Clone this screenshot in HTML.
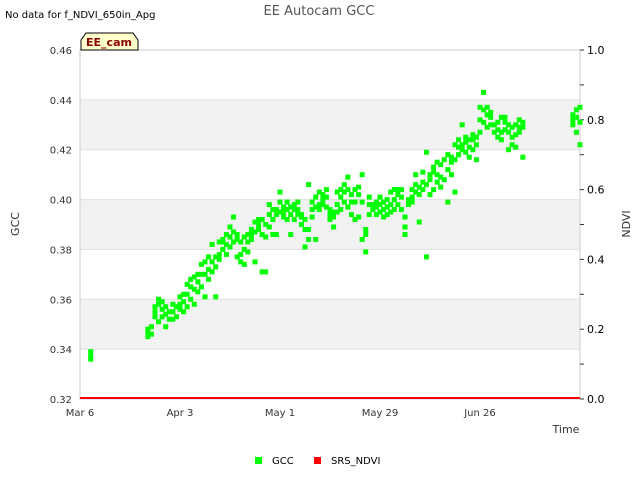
<!DOCTYPE html>
<html><head><meta charset="utf-8"><style>
body{margin:0;background:#fff;font-family:"Liberation Sans","DejaVu Sans",sans-serif;}
svg text{font-family:"DejaVu Sans","Liberation Sans",sans-serif;}
</style></head><body>
<svg id="chart" width="640" height="480" viewBox="0 0 640 480">
<text x="5" y="18" font-size="10" fill="#000">No data for f_NDVI_650in_Apg</text>
<text x="319" y="15" font-size="13" fill="#555" text-anchor="middle">EE Autocam GCC</text>
<g id="bands"></g>
<g id="grid"></g>
<rect x="80" y="50" width="500" height="349" fill="none" stroke="#ccc"/>
<g id="yticks"></g><g id="y2ticks"></g><g id="xticks"></g>
<g id="gccpts"></g><g id="ndvi"></g>
<path d="M81,50 L81,40 L86,33 L133,33 L138,40 L138,50 Z" fill="#ffffcc" stroke="#000" stroke-width="1"/>
<text x="109" y="46" font-size="11" font-weight="bold" fill="#8b0000" text-anchor="middle">EE_cam</text>
<text x="19" y="224" font-size="11" fill="#333" text-anchor="middle" transform="rotate(-90 19 224)">GCC</text>
<text x="630" y="224" font-size="11" fill="#333" text-anchor="middle" transform="rotate(-90 630 224)">NDVI</text>
<text x="566" y="433" font-size="11" fill="#333" text-anchor="middle">Time</text>
<g>
<rect x="255" y="457" width="7" height="7" fill="#00ff00"/>
<text x="272" y="464" font-size="10" fill="#000">GCC</text>
<rect x="314" y="457" width="7" height="7" fill="#ff0000"/>
<text x="331" y="464" font-size="10" fill="#000">SRS_NDVI</text>
</g>
</svg>
<script>
const yTicks=[0.32,0.34,0.36,0.38,0.40,0.42,0.44,0.46];
const y2Ticks=[0.0,0.2,0.4,0.6,0.8,1.0];
const xTickDays=[0,28,56,84,112];
const xTickLabels=["Mar 6","Apr 3","May 1","May 29","Jun 26"];
const gccDays=[3,3,3,19,19,19,20,20,21,21,21,22,22,22,23,23,23,24,24,24,25,25,26,26,26,27,27,28,28,28,29,29,29,30,30,30,31,31,31,32,32,32,33,33,33,34,34,34,35,35,35,36,36,36,37,37,37,38,38,38,39,39,39,40,40,40,41,41,41,42,42,42,43,43,43,44,44,44,45,45,45,46,46,46,47,47,47,48,48,48,49,49,49,50,50,50,51,51,51,52,52,52,53,53,53,54,54,54,55,55,55,56,56,56,57,57,57,58,58,58,59,59,59,60,60,60,61,61,61,62,62,62,63,63,63,64,64,64,65,65,65,66,66,66,67,67,67,68,68,68,69,69,69,70,70,70,71,71,71,72,72,72,73,73,73,74,74,74,75,75,75,76,76,76,77,77,77,78,78,78,79,79,79,80,80,80,81,81,81,82,82,83,83,83,84,84,84,85,85,85,86,86,86,87,87,87,88,88,88,89,89,89,90,90,90,91,91,91,92,92,93,93,93,94,94,94,95,95,95,96,96,96,97,97,97,98,98,98,99,99,99,100,100,100,101,101,101,102,102,103,103,103,104,104,104,105,105,105,106,106,106,107,107,107,108,108,108,109,109,109,110,110,110,111,111,111,112,112,112,113,113,113,114,114,114,115,115,115,116,116,117,117,117,118,118,118,119,119,119,120,120,120,121,121,121,122,122,122,123,123,123,124,124,124,138,138,138,139,139,139,140,140,140];
const gccValues=[.336,.337,.339,.345,.347,.348,.346,.349,.353,.355,.357,.351,.358,.360,.353,.356,.359,.349,.354,.357,.352,.355,.352,.355,.358,.353,.357,.356,.358,.361,.355,.359,.362,.357,.362,.366,.360,.365,.368,.358,.364,.369,.363,.367,.370,.365,.370,.374,.361,.370,.375,.368,.372,.377,.371,.375,.382,.361,.373,.377,.376,.378,.383,.380,.383,.384,.378,.382,.386,.381,.385,.389,.383,.387,.393,.377,.384,.386,.375,.378,.383,.374,.380,.385,.379,.383,.386,.384,.386,.388,.375,.387,.391,.388,.390,.392,.371,.386,.392,.371,.385,.390,.389,.394,.398,.386,.392,.396,.386,.394,.396,.395,.399,.403,.393,.395,.397,.392,.396,.399,.386,.394,.397,.392,.396,.398,.394,.396,.399,.390,.393,.394,.381,.388,.392,.384,.388,.406,.393,.396,.399,.384,.397,.401,.396,.398,.403,.398,.400,.402,.397,.401,.404,.392,.394,.396,.389,.393,.395,.395,.398,.403,.396,.401,.404,.399,.403,.406,.397,.404,.409,.394,.399,.402,.392,.399,.404,.393,.402,.405,.384,.399,.410,.379,.386,.388,.394,.398,.401,.396,.398,.394,.397,.399,.395,.398,.401,.393,.396,.399,.394,.397,.400,.395,.398,.403,.396,.400,.404,.398,.402,.404,.396,.401,.404,.389,.393,.386,.398,.400,.399,.401,.404,.403,.406,.410,.391,.402,.405,.404,.407,.411,.377,.406,.419,.402,.408,.410,.404,.411,.413,.407,.410,.415,.405,.409,.414,.408,.416,.399,.412,.418,.410,.415,.417,.403,.416,.422,.418,.421,.424,.420,.422,.430,.419,.423,.425,.417,.421,.424,.420,.424,.426,.416,.422,.425,.427,.432,.437,.431,.436,.443,.429,.434,.437,.430,.433,.435,.427,.430,.425,.428,.431,.424,.427,.433,.428,.431,.433,.420,.427,.430,.422,.425,.429,.421,.426,.430,.427,.429,.432,.417,.429,.431,.430,.432,.434,.427,.433,.436,.422,.431,.437];
const ndviDays=[0,140];
const ndviValues=[0.0,0.0];

const NS="http://www.w3.org/2000/svg";
const X0=80,X1=580,YT=50,YB=399,DAYS=140;
const xs=d=>X0+d*(X1-X0)/DAYS;
const ys=v=>YB-(v-0.32)*(YB-YT)/0.14;
const y2s=v=>YB-v*(YB-YT);
function mk(tag,parent){const e=document.createElementNS(NS,tag);document.getElementById(parent).appendChild(e);return e;}

[[0.34,0.36],[0.38,0.40],[0.42,0.44]].forEach(b=>{
 const r=mk('rect','bands');
 r.setAttribute('x',X0);r.setAttribute('width',X1-X0);
 r.setAttribute('y',ys(b[1]));r.setAttribute('height',ys(b[0])-ys(b[1]));
 r.setAttribute('fill','#f2f2f2');
 
 
});
yTicks.forEach(v=>{
 const y=ys(v);
 const l=mk('line','grid');
 l.setAttribute('x1',X0);l.setAttribute('x2',X1);l.setAttribute('y1',y);l.setAttribute('y2',y);
 l.setAttribute('stroke','#e0e0e0');
 
 
 const t=mk('text','yticks');
 t.setAttribute('x',72);t.setAttribute('y',y+4);t.setAttribute('font-size','10');t.setAttribute('fill','#333');t.setAttribute('text-anchor','end');
 t.textContent=v.toFixed(2);
 
 
});
y2Ticks.forEach(v=>{
 const y=y2s(v);
 const l=mk('line','y2ticks');
 l.setAttribute('x1',X1);l.setAttribute('x2',X1+4);l.setAttribute('y1',y);l.setAttribute('y2',y);l.setAttribute('stroke','#333');
 
 
 const t=mk('text','y2ticks');
 t.setAttribute('x',587);t.setAttribute('y',y+4);t.setAttribute('font-size','11');t.setAttribute('fill','#000');
 t.textContent=v.toFixed(1);
 
 
});
for(let v=0.1;v<1;v+=0.2){const l=mk('line','y2ticks');l.setAttribute('x1',X1);l.setAttribute('x2',X1+4);l.setAttribute('y1',y2s(v));l.setAttribute('y2',y2s(v));l.setAttribute('stroke','#333');
 
 }
xTickDays.forEach((d,i)=>{
 const t=mk('text','xticks');
 t.setAttribute('x',xs(d));t.setAttribute('y',416);t.setAttribute('font-size','10');t.setAttribute('fill','#333');t.setAttribute('text-anchor','middle');
 t.textContent=xTickLabels[i];
 
 
});
gccDays.forEach((d,i)=>{
 const r=mk('rect','gccpts');
 r.setAttribute('x',xs(d)-2.5);r.setAttribute('y',ys(gccValues[i])-2.5);r.setAttribute('width',5);r.setAttribute('height',5);r.setAttribute('fill','#00ff00');
 
 
});
const p=mk('polyline','ndvi');
p.setAttribute('points',ndviDays.map((d,i)=>xs(d)+','+(y2s(ndviValues[i])-1)).join(' '));
p.setAttribute('stroke','#ff0000');p.setAttribute('stroke-width','2');p.setAttribute('fill','none');


</script>
</body></html>
